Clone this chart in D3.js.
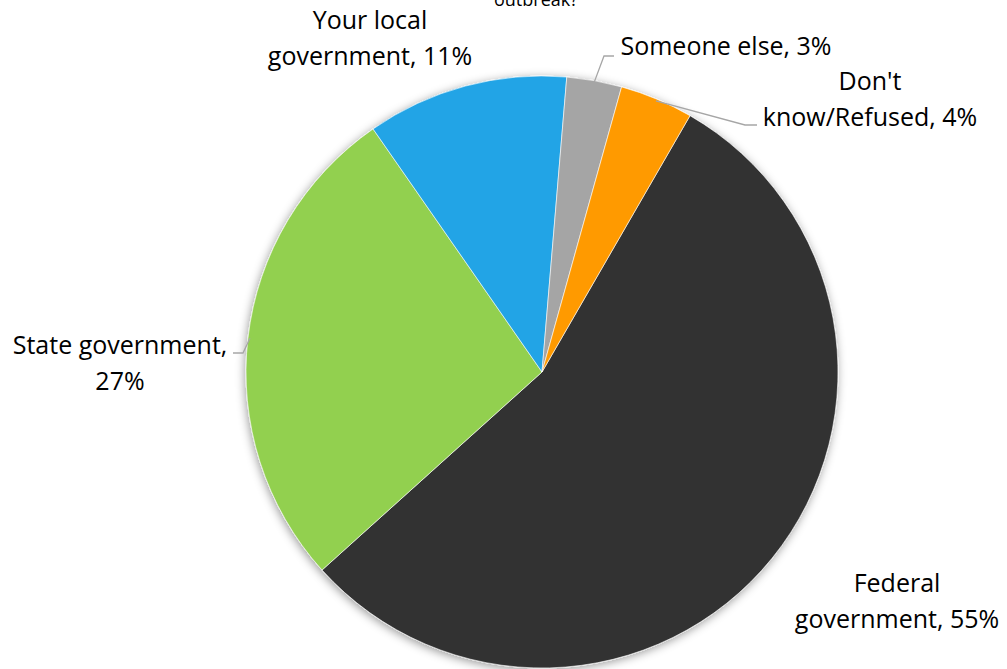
<!DOCTYPE html>
<html>
<head>
<meta charset="utf-8">
<script src="https://cdn.jsdelivr.net/npm/d3@7"></script>
<style>
  html, body { margin: 0; padding: 0; background: #fff; }
  svg { display: block; }
  text { font-family: "Open Sans", "Noto Sans", sans-serif; fill: #000; }
</style>
</head>
<body>
<svg id="chart" width="1007" height="669"></svg>
<script>
// Survey answers, in slice order (clockwise)
const categories = ["Federal government", "State government", "Your local government", "Someone else", "Don't know/Refused"];
const shares = [55, 27, 11, 3, 4];
const colors = ["#333333", "#92D050", "#20A4E6", "#A5A5A5", "#FF9A00"];
// Label text, one array of lines per slice
const labelLines = [
  ["Federal", "government, 55%"],
  ["State government,", "27%"],
  ["Your local", "government, 11%"],
  ["Someone else, 3%"],
  ["Don't", "know/Refused, 4%"]
];
const titleLine = "outbreak?";

const svg = d3.select("#chart");
const W = 1007, H = 669;
const cx = 542, cy = 372, R = 296;
const firstSliceAngle = 30 * Math.PI / 180;

// Soft shadow around the pie
const defs = svg.append("defs");
const f = defs.append("filter").attr("id", "pieShadow")
  .attr("x", "-10%").attr("y", "-10%").attr("width", "120%").attr("height", "120%");
f.append("feDropShadow").attr("dx", -1).attr("dy", 2).attr("stdDeviation", 5)
  .attr("flood-color", "#000").attr("flood-opacity", 0.4);

// Title (its last line sits at the top edge)
svg.append("text").attr("x", 536).attr("y", 6).attr("text-anchor", "middle")
  .style("font-size", "18px").text(titleLine);

const pie = d3.pie().sort(null).value(d => d)
  .startAngle(firstSliceAngle).endAngle(firstSliceAngle + 2 * Math.PI);
const arcs = pie(shares);
const arc = d3.arc().innerRadius(0).outerRadius(R);

const g = svg.append("g").attr("transform", `translate(${cx},${cy})`);
g.append("g").attr("filter", "url(#pieShadow)")
  .selectAll("path").data(arcs).join("path")
  .attr("d", arc)
  .attr("fill", (d, i) => colors[i])
  .attr("stroke", "#fff").attr("stroke-width", 0.6);

// Label placement: text centre x, first baseline y, and leader elbow (if any)
const labelLayout = [
  { x: 897, y: 592, leader: null },
  { x: 120, y: 354, leader: { elbow: [243, 353], end: [233, 353] } },
  { x: 370, y: 29, leader: null },
  { x: 726, y: 55, leader: { elbow: [604, 56], end: [614, 56] } },
  { x: 870, y: 90, leader: { elbow: [745, 125], end: [757, 125] } }
];
const lineGap = 36;

arcs.forEach((a, i) => {
  const L = labelLayout[i];
  if (L.leader) {
    const mid = (a.startAngle + a.endAngle) / 2;
    const sx = cx + (R - 2) * Math.sin(mid), sy = cy - (R - 2) * Math.cos(mid);
    svg.append("polyline")
      .attr("points", [[sx, sy], L.leader.elbow, L.leader.end].map(p => p.join(",")).join(" "))
      .attr("fill", "none").attr("stroke", "#A6A6A6").attr("stroke-width", 1.3);
  }
  const t = svg.append("text").attr("text-anchor", "middle").style("font-size", "25px");
  labelLines[i].forEach((ln, k) => {
    t.append("tspan").attr("x", L.x).attr("y", L.y + k * lineGap).text(ln);
  });
});
</script>
</body>
</html>
